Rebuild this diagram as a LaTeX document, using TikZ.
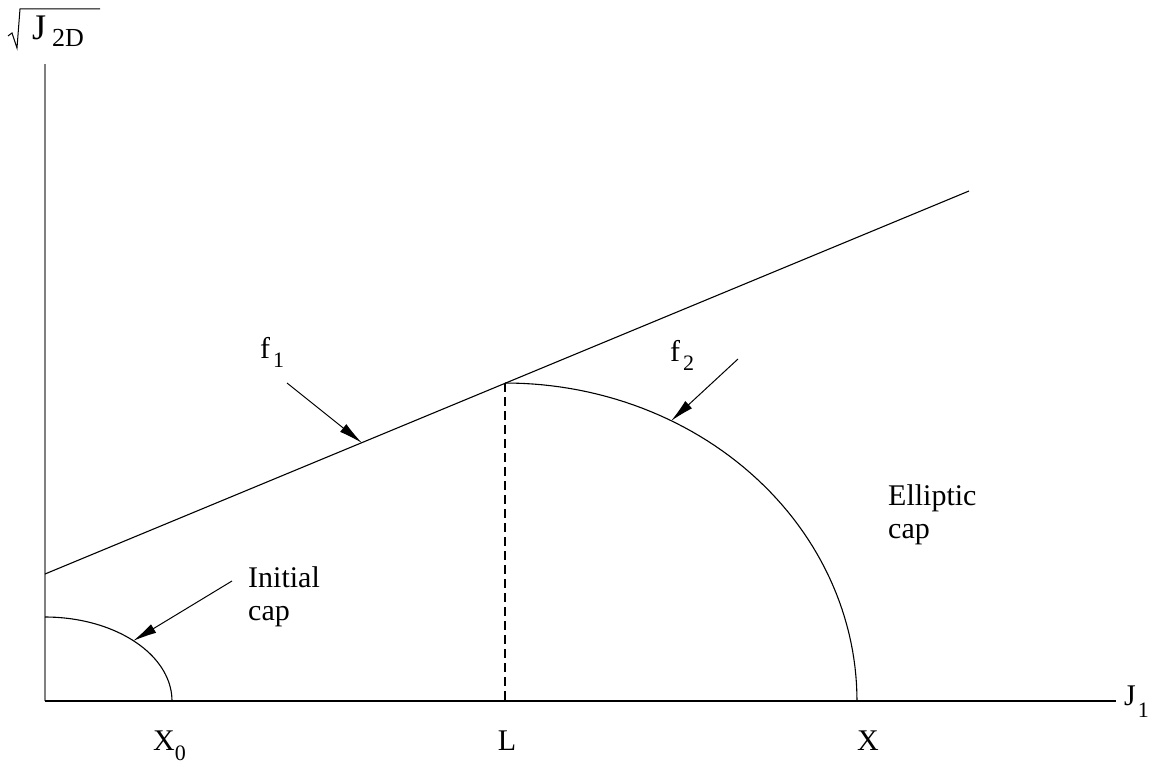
\documentclass[tikz,border=0pt]{standalone}
\usepackage{fontspec}
\setmainfont{Liberation Serif}
\usetikzlibrary{arrows.meta}
\newcommand{\lowsub}[2][9pt]{\raisebox{-#1}{\fontsize{22}{22}\selectfont #2}}
\begin{document}
\begin{tikzpicture}[x=1pt,y=-1pt,
  lbl/.style={font=\fontsize{30}{33}\selectfont, inner sep=0pt},
  ln/.style={line width=1.1pt},
  axisv/.style={gray, line width=1.8pt},
  arr/.style={line width=1pt, -{Latex[length=24pt,width=10pt]}}]
\useasboundingbox (0,0) rectangle (1157,767);
% axes
\coordinate (O) at (45,701);
\coordinate (ytop) at (45,64);
\coordinate (xend) at (1116,701);
\draw[axisv] (O) -- (ytop);
\draw[ln] (O) -- (xend);
% f1 line
\coordinate (f1s) at (45,574);
\coordinate (f1e) at (969,191);
\draw[ln] (f1s) -- (f1e);
% dashed line at L
\coordinate (Ltop) at (505,383);
\coordinate (Lbot) at (505,701);
\draw[ln, dash pattern=on 9pt off 5pt] (Ltop) -- (Lbot);
% elliptic cap
\draw[ln] plot[domain=90:0, samples=60] ({505+352*cos(\x)},{701-318*sin(\x)});
% initial cap
\draw[ln] plot[domain=90:0, samples=40] ({45+127*cos(\x)},{701-84*sin(\x)});
% arrows
\coordinate (a1s) at (287,383);
\coordinate (a1e) at (362,443);
\coordinate (a2s) at (738,359);
\coordinate (a2e) at (671,421);
\coordinate (a3s) at (232,581);
\coordinate (a3e) at (133,641);
\draw[arr] (a1s) -- (a1e);
\draw[arr] (a2s) -- (a2e);
\draw[arr] (a3s) -- (a3e);
% radical for sqrt J2D
\coordinate (r1) at (8,36);
\coordinate (r2) at (12,33);
\coordinate (r3) at (17,48);
\coordinate (r4) at (20,9);
\coordinate (r5) at (100,9);
\draw[line width=1pt] (r1) -- (r2) -- (r3) -- (r4) -- (r5);
\node[inner sep=0pt, anchor=base west, font=\fontsize{36}{38}\selectfont] (jy) at (32,40) {J};
\node[inner sep=0pt, anchor=base west, font=\fontsize{26}{26}\selectfont] (jysub) at (52,47) {2D};
% labels
\node[lbl, anchor=base west] (f1) at (260,359) {f\kern3pt\lowsub{1}};
\node[lbl, anchor=base west] (f2) at (670,362) {f\kern3pt\lowsub{2}};
\node[lbl, anchor=base west] (j1) at (1124,705) {J\kern2pt\lowsub[12pt]{1}};
\node[lbl, anchor=base west] (x0) at (153,750) {X\lowsub[10pt]{0}};
\node[lbl, anchor=base] (lL) at (507,750) {L};
\node[lbl, anchor=base] (lX) at (868,750) {X};
\node[lbl, anchor=base west] (ini) at (248,587) {Initial};
\node[lbl, anchor=base west] (inicap) at (248,620) {cap};
\node[lbl, anchor=base west] (ell) at (888,505) {Elliptic};
\node[lbl, anchor=base west] (ellcap) at (888,538) {cap};
\end{tikzpicture}
\end{document}
